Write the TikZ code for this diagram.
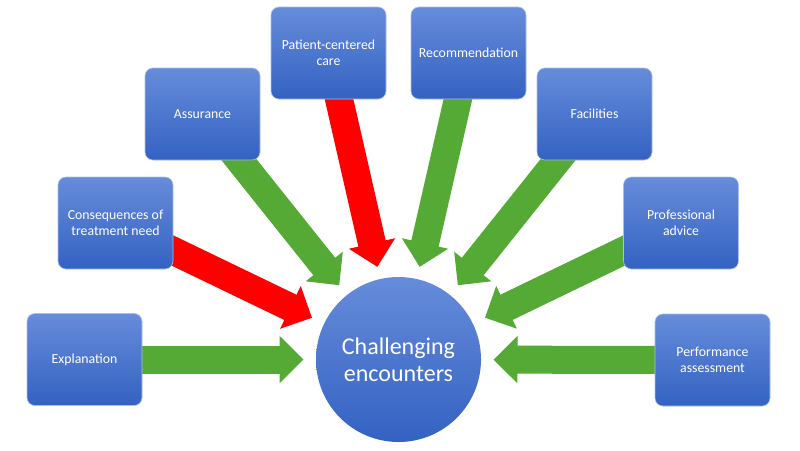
\documentclass[tikz,border=0pt]{standalone}
\usepackage{fontspec}
\setmainfont{Carlito}
\usetikzlibrary{calc,arrows.meta,backgrounds}
\definecolor{boxtop}{RGB}{102,140,218}
\definecolor{boxbot}{RGB}{52,98,194}
\definecolor{agreen}{RGB}{84,170,52}
\definecolor{ared}{RGB}{255,0,0}
\definecolor{bline}{RGB}{170,190,235}
\tikzset{
  box/.style={rectangle, rounded corners=8pt, minimum width=115pt, minimum height=92pt,
    top color=boxtop, bottom color=boxbot, draw=bline, line width=0.6pt,
    text=white, align=center, font=\fontsize{13.8}{16}\selectfont, inner sep=2pt},
  hub/.style={circle, minimum size=165pt, inner sep=0pt, top color=boxtop, bottom color=boxbot,
    text=white, align=center, font=\fontsize{24}{27}\selectfont},
  blockarrow/.style={line width=28pt, line cap=butt, -{Triangle[length=24pt,width=46pt]}},
  garrow/.style={blockarrow, draw=agreen, color=agreen},
  rarrow/.style={blockarrow, draw=ared, color=ared}
}
\begin{document}
\begin{tikzpicture}[x=1pt,y=-1pt]
\useasboundingbox (0,0) rectangle (800,450);
\node[hub] (c) at (398.5,359.5) {Challenging\\encounters};
\node[box] (ex) at (84.5,359.5) {Explanation};
\node[box] (co) at (115.5,223) {Consequences of\\treatment need};
\node[box] (as) at (202.5,114) {Assurance};
\node[box] (pc) at (328.5,53) {Patient-centered\\care};
\node[box] (re) at (468.5,53) {Recommendation};
\node[box] (fa) at (594.5,114) {Facilities};
\node[box] (pa) at (681,223) {Professional\\advice};
\node[box] (pe) at (712.5,360) {Performance\\assessment};
\begin{pgfonlayer}{background}
\draw[garrow] (ex.center) -- ($(c.center)!95pt!(ex.center)$);
\draw[rarrow] (co.center) -- ($(c.center)!96pt!(co.center)$);
\draw[garrow] (as.center) -- ($(c.center)!95pt!(as.center)$);
\draw[rarrow] (pc.center) -- ($(c.center)!95pt!(pc.center)$);
\draw[garrow] (re.center) -- ($(c.center)!95pt!(re.center)$);
\draw[garrow] (fa.center) -- ($(c.center)!95pt!(fa.center)$);
\draw[garrow] (pa.center) -- ($(c.center)!96pt!(pa.center)$);
\draw[garrow] (pe.center) -- ($(c.center)!95pt!(pe.center)$);
\end{pgfonlayer}
\end{tikzpicture}
\end{document}
